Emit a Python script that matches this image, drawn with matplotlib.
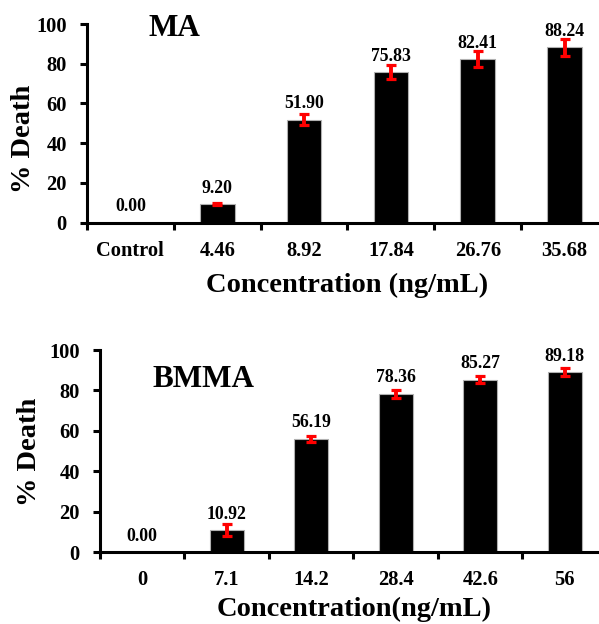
import numpy as np
import matplotlib
matplotlib.use('Agg')
import matplotlib.pyplot as plt

plt.rcParams['font.family'] = ['Liberation Serif', 'DejaVu Serif']
plt.rcParams['font.weight'] = 'bold'

# dados
ma_rotulos = ['Control', '4.46', '8.92', '17.84', '26.76', '35.68']
ma_morte = [0.00, 9.20, 51.90, 75.83, 82.41, 88.24]
ma_erro = [0.0, 0.5, 2.7, 3.5, 3.9, 4.4]

bmma_rotulos = ['0', '7.1', '14.2', '28.4', '42.6', '56']
bmma_morte = [0.00, 10.92, 56.19, 78.36, 85.27, 89.18]
bmma_erro = [0.0, 3.0, 1.4, 2.0, 1.7, 1.9]

y_ticks = [0, 20, 40, 60, 80, 100]


def painel(ax, rotulos, valores, erros, titulo, xlabel, tit_pos, ylab_pos, xlab_pos,
           xpad, ypad):
    n = len(valores)
    x = np.arange(n) + 0.5
    ax.bar(x, valores, width=0.4, color='black', edgecolor='#b0b0b0', linewidth=0.8,
           zorder=2)
    ax.errorbar(x[1:], valores[1:], yerr=erros[1:], fmt='none', ecolor='#ff0000',
                elinewidth=2.8, capsize=3.6, capthick=2.3, zorder=3)
    for xi, v in zip(x, valores):
        ax.text(xi, v + 5.6, f'{v:.2f}', ha='center', va='baseline',
                fontsize=12.8, fontweight='bold', color='black')

    ax.set_xlim(0, n)
    ax.set_ylim(0, 100)
    ax.set_yticks(y_ticks)
    ax.set_xticks(np.arange(n + 1))
    ax.set_xticklabels([])
    ax.set_xticks(x, minor=True)
    ax.set_xticklabels(rotulos, minor=True, fontsize=14.8, fontweight='bold')
    ax.tick_params(axis='x', which='major', direction='out', length=5, width=2.2)
    ax.tick_params(axis='x', which='minor', length=0, pad=xpad)
    ax.tick_params(axis='y', direction='out', length=5, width=2.2, pad=ypad,
                   labelsize=14.8)
    for lab in ax.get_yticklabels():
        lab.set_fontweight('bold')

    for s in ['top', 'right']:
        ax.spines[s].set_visible(False)
    for s in ['left', 'bottom']:
        ax.spines[s].set_linewidth(2.2)

    ax.text(tit_pos[0], tit_pos[1], titulo, transform=ax.transAxes, ha='left',
            va='baseline', fontsize=22.5, fontweight='bold')

    ax.set_ylabel('% Death', fontsize=20.5, fontweight='bold')
    ax.yaxis.label.set_va('center')
    ax.yaxis.label.set_ha('center')
    ax.yaxis.set_label_coords(*ylab_pos)

    ax.set_xlabel(xlabel, fontsize=20.5, fontweight='bold')
    ax.xaxis.label.set_va('baseline')
    ax.xaxis.set_label_coords(*xlab_pos)


fig = plt.figure(figsize=(5.99, 6.24), dpi=100)

ax1 = fig.add_axes([0.1452, 0.6434, 0.8698, 0.318])
painel(ax1, ma_rotulos, ma_morte, ma_erro, 'MA', 'Concentration (ng/mL)',
       (0.119, 0.938), (-0.121, 0.42), (0.499, -0.351), 13.5, 9.5)

ax2 = fig.add_axes([0.1669, 0.1146, 0.8464, 0.3245])
painel(ax2, bmma_rotulos, bmma_morte, bmma_erro, 'BMMA', 'Concentration(ng/mL)',
       (0.1045, 0.819), (-0.139, 0.498), (0.501, -0.316), 12.6, 9.5)

fig.savefig('out.png', dpi=100)
